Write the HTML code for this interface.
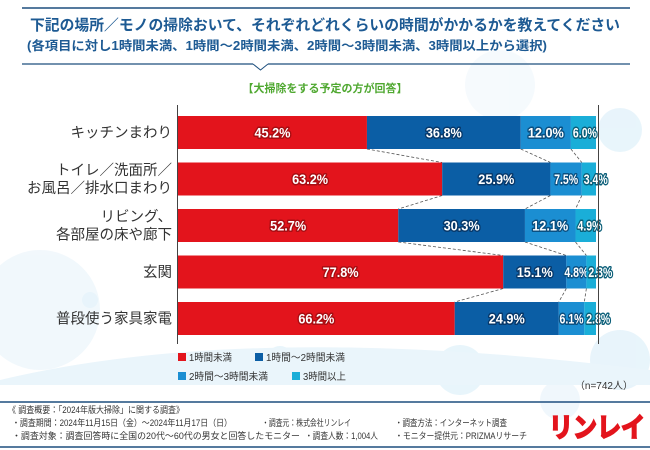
<!DOCTYPE html>
<html><head><meta charset="utf-8">
<style>
body{margin:0;width:650px;height:450px;overflow:hidden;background:#fff;font-family:"Liberation Sans","Noto Sans CJK JP",sans-serif;}
svg{display:block}
</style></head><body>
<svg id="chart" width="650" height="450" viewBox="0 0 650 450" xmlns="http://www.w3.org/2000/svg">
<g fill="#d6ecf8" opacity="0.55">
<circle cx="620" cy="130" r="22"/><circle cx="500" cy="85" r="35" fill="#eef6fc"/>
<circle cx="40" cy="310" r="60" fill="#e7f3fa"/><circle cx="90" cy="300" r="8"/>
<circle cx="620" cy="360" r="30"/><circle cx="460" cy="370" r="25"/><circle cx="280" cy="360" r="14"/>
<circle cx="560" cy="400" r="20" fill="#e5f2fa"/>
</g>
<path d="M0 380 Q 250 320 650 370 L650 385 L0 385Z" fill="#eaf5fb"/>
<line x1="22" y1="8" x2="630" y2="8" stroke="#1d4f7e" stroke-width="1.5"/>
<text x="30" y="30" font-size="15" font-weight="bold" fill="#1d5a93" textLength="590" lengthAdjust="spacingAndGlyphs">下記の場所／モノの掃除おいて、それぞれどれくらいの時間がかかるかを教えてください</text>
<text x="27" y="50" font-size="12.5" font-weight="bold" fill="#1d5a93" textLength="520" lengthAdjust="spacingAndGlyphs">(各項目に対し1時間未満、1時間～2時間未満、2時間～3時間未満、3時間以上から選択)</text>
<line x1="22" y1="64" x2="253" y2="64" stroke="#1d4f7e" stroke-width="1.2"/>
<line x1="268" y1="64" x2="630" y2="64" stroke="#1d4f7e" stroke-width="1.2"/>
<polyline points="253,64 260.5,70 268,64" fill="none" stroke="#1d4f7e" stroke-width="1"/>
<text x="325" y="92" font-size="11" font-weight="bold" fill="#4fa830" text-anchor="middle">【大掃除をする予定の方が回答】</text>
<g id="plot"></g>
<g font-size="10" fill="#333">
<rect x="178" y="353" width="8" height="8" fill="#e3141c"/><text x="189" y="361" textLength="43" lengthAdjust="spacingAndGlyphs">1時間未満</text>
<rect x="255" y="353" width="8" height="8" fill="#0b5ea5"/><text x="266" y="361" textLength="79" lengthAdjust="spacingAndGlyphs">1時間～2時間未満</text>
<rect x="178" y="372" width="8" height="8" fill="#1b8ed2"/><text x="189" y="380" textLength="79" lengthAdjust="spacingAndGlyphs">2時間～3時間未満</text>
<rect x="292" y="372" width="8" height="8" fill="#1aaed8"/><text x="303" y="380" textLength="43" lengthAdjust="spacingAndGlyphs">3時間以上</text>
</g>
<text x="633" y="389" font-size="10" fill="#333" text-anchor="end">（n=742人）</text>
<line x1="0" y1="402" x2="650" y2="402" stroke="#1d4f7e" stroke-width="1.5"/>
<g font-size="9" fill="#333">
<text x="8" y="413" textLength="176" lengthAdjust="spacingAndGlyphs">《 調査概要：「2024年版大掃除」に関する調査》</text>
<text x="12" y="426" textLength="220" lengthAdjust="spacingAndGlyphs">・調査期間：2024年11月15日（金）～2024年11月17日（日）</text>
<text x="262" y="426" textLength="89" lengthAdjust="spacingAndGlyphs">・調査元：株式会社リンレイ</text>
<text x="395" y="426" textLength="112" lengthAdjust="spacingAndGlyphs">・調査方法：インターネット調査</text>
<text x="12" y="439" textLength="288" lengthAdjust="spacingAndGlyphs">・調査対象：調査回答時に全国の20代～60代の男女と回答したモニター</text>
<text x="305" y="439" textLength="73" lengthAdjust="spacingAndGlyphs">・調査人数：1,004人</text>
<text x="395" y="439" textLength="132" lengthAdjust="spacingAndGlyphs">・モニター提供元：PRIZMAリサーチ</text>
</g>
<text x="597" y="437" font-size="27" font-weight="bold" fill="#e3141c" stroke="#e3141c" stroke-width="1.8" text-anchor="middle" textLength="96" lengthAdjust="spacingAndGlyphs">リンレイ</text>
<line x1="0" y1="447" x2="650" y2="447" stroke="#1d4f7e" stroke-width="1.5"/>
</svg>
<script>
const categories = [["キッチンまわり"],["トイレ／洗面所／","お風呂／排水口まわり"],["リビング、","各部屋の床や廊下"],["玄関"],["普段使う家具家電"]];
const under1h = [45.2, 63.2, 52.7, 77.8, 66.2];
const h1to2 = [36.8, 25.9, 30.3, 15.1, 24.9];
const h2to3 = [12.0, 7.5, 12.1, 4.8, 6.1];
const over3h = [6.0, 3.4, 4.9, 2.3, 2.8];
const seriesNames = ["under-1h","1-2h","2-3h","over-3h"];
const colors = ["#e3141c","#0b5ea5","#1b8ed2","#1aaed8"];
const strokes = ["#a80d12","#07386a","#0a4f80","#0a5e78"];
const NS = "http://www.w3.org/2000/svg";
const x0 = 178, plotW = 418, top0 = 116, pitch = 46.5, bh = 33;
const xs = v => x0 + v / 100 * plotW;
const ys = i => top0 + i * pitch;
const plot = document.getElementById('plot');
function mk(tag, attrs){const e=document.createElementNS(NS,tag);for(const k in attrs)e.setAttribute(k,attrs[k]);plot.appendChild(e);return e;}
const series = [under1h, h1to2, h2to3, over3h];
const cums = categories.map((c,i)=>{let s=0;return series.map(a=>{s+=a[i];return s;});});
for(let i=0;i<categories.length-1;i++){
  for(let k=0;k<3;k++){
    const l = mk('line',{x1:xs(cums[i][k]),y1:ys(i)+bh,x2:xs(cums[i+1][k]),y2:ys(i+1),stroke:'#555','stroke-width':0.8,'stroke-dasharray':'3,2'});
    
    
  }
}
categories.forEach((cat,i)=>{
  let start=0;
  series.forEach((arr,k)=>{
    const v=arr[i];
    const r = mk('rect',{x:xs(start),y:ys(i),width:xs(start+v)-xs(start),height:bh,fill:colors[k]});
    
    
    let cx = xs(start+v/2);
    const tl = v<10?24:36;
    if(k===3) cx = Math.max(cx, xs(start)+tl/2+2);
    if(k===2 && v<10) cx = Math.min(cx, xs(start+v)-tl/2+4);
    const t = mk('text',{x:cx,y:ys(i)+bh/2+5,'font-size':14,'font-weight':'bold','text-anchor':'middle',fill:'#fff',stroke:strokes[k],'stroke-width':3,'paint-order':'stroke','stroke-linejoin':'round',textLength:tl,lengthAdjust:'spacingAndGlyphs'});
    t.textContent = v.toFixed(1)+'%';
    
    
    start+=v;
  });
  cat.forEach((ln,j)=>{
    const y = ys(i)+bh/2+5 + (j-(cat.length-1)/2)*18;
    const t = mk('text',{x:172,y:y,'font-size':14.5,fill:'#333','text-anchor':'end'});
    t.textContent=ln;
    
    
  });
});
const ax = mk('line',{x1:177.5,y1:105,x2:177.5,y2:344,stroke:'#444','stroke-width':1});


const ax2 = mk('line',{x1:598.5,y1:105,x2:598.5,y2:344,stroke:'#444','stroke-width':1});


</script>
</body></html>
